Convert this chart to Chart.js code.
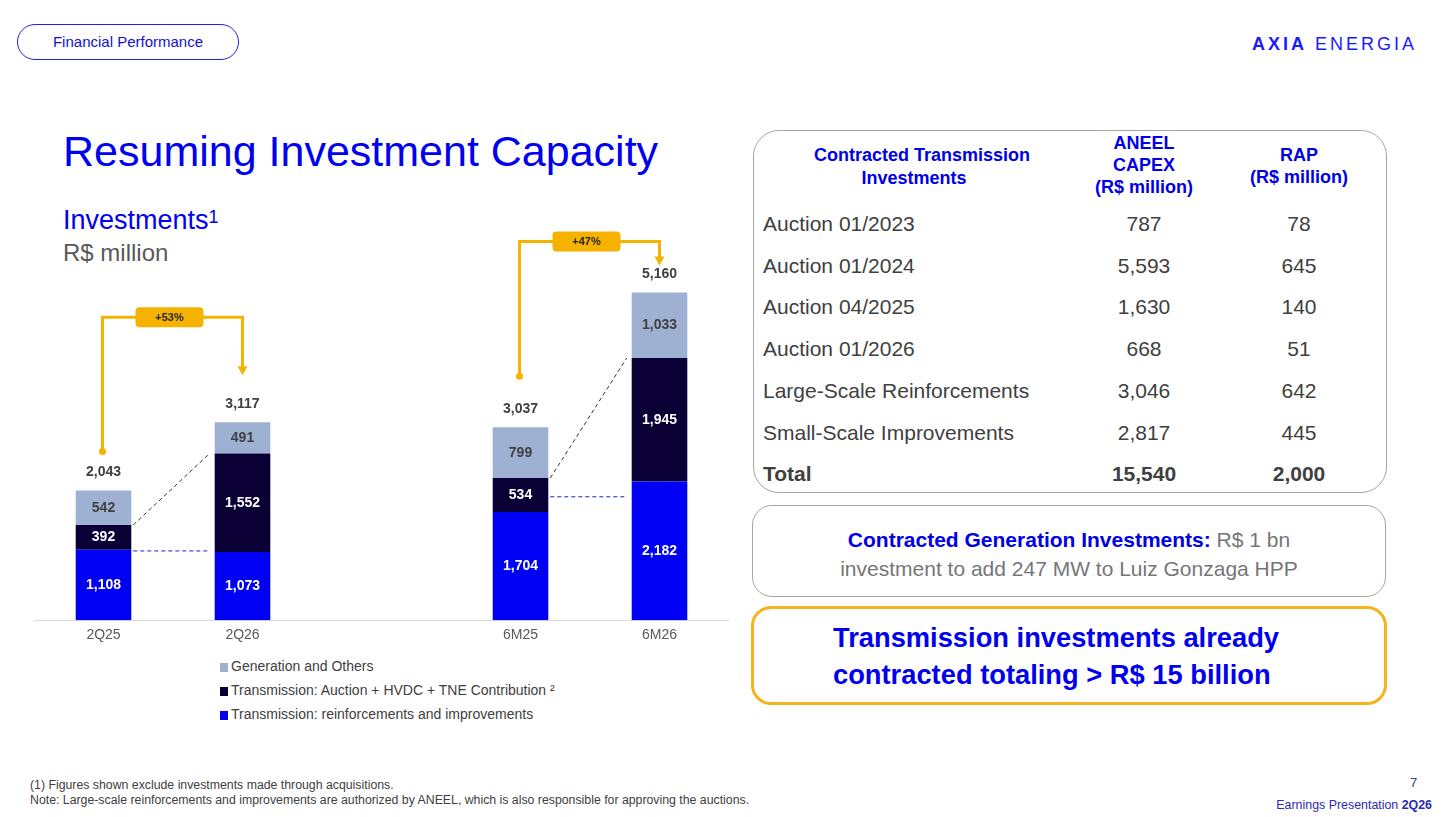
<!DOCTYPE html>
<html>
<head>
<meta charset="utf-8">
<script src="https://cdn.jsdelivr.net/npm/chart.js@4.4.1/dist/chart.umd.min.js"></script>
<style>
  body { margin: 0; background: #fff; font-family: Arial, "Liberation Sans", sans-serif; }
  #slide { position: relative; width: 1452px; height: 817px; overflow: hidden; background: #fff; }
  .abs { position: absolute; white-space: nowrap; }
  .pill { left: 17px; top: 24px; width: 222px; height: 36px; box-sizing: border-box; border: 1.5px solid #2020f0; border-radius: 18px;
          font-size: 15px; line-height: 33px; text-align: center; color: #1010d0; }
  .logo { left: 1252px; top: 34px; font-size: 18px; line-height: 20px; letter-spacing: 3px; color: #1a1aff; }
  .title { left: 63px; top: 130px; font-size: 43px; line-height: 42px; color: #0000f0; }
  .sub1 { left: 63px; top: 205px; font-size: 27px; line-height: 30px; color: #0000f0; }
  .sub1 sup { font-size: 18px; vertical-align: 6px; line-height: 0; }
  .sub2 { left: 63px; top: 238px; font-size: 24px; line-height: 30px; color: #595959; }
  #chartBox { position: absolute; left: 34px; top: 220px; width: 695px; height: 431px; }
  #legend { left: 220px; top: 654px; font-size: 14px; color: #404040; }
  #legend div { height: 24px; line-height: 24px; }
  #legend span.sw { display: inline-block; width: 8px; height: 9px; margin-right: 3px; vertical-align: -1px; }
  .foot { left: 30px; top: 778px; font-size: 12.3px; line-height: 15px; color: #404040; }
  .page { left: 1410px; top: 775px; font-size: 13px; line-height: 16px; color: #3a3a8a; }
  .earn { right: 20px; top: 797px; font-size: 12.4px; line-height: 16px; color: #2a2ab8; }
  .box { position: absolute; box-sizing: border-box; }
  #tbl { left: 753px; top: 130px; width: 634px; height: 363px; border: 1px solid #a6a6a6; border-radius: 26px; }
  .hd { position: absolute; font-size: 18px; font-weight: bold; color: #0000e6; text-align: center; white-space: nowrap; }
  .cell { position: absolute; font-size: 21px; line-height: 30px; color: #404040; white-space: nowrap; }
  .num { text-align: center; width: 160px; }
  .gen { left: 752px; top: 505px; width: 634px; height: 92px; border: 1px solid #a6a6a6; border-radius: 20px; }
  .gentext { position: absolute; left: 0; width: 100%; top: 19px; text-align: center; font-size: 21px; line-height: 29px; color: #767676; }
  .gentext b { color: #0000e6; }
  .hl { left: 751px; top: 606px; width: 636px; height: 99px; border: 3px solid #f5b41e; border-radius: 20px; }
  .hltext { position: absolute; left: 79px; top: 10px; font-size: 27.3px; line-height: 37px; font-weight: bold; color: #0000ee; white-space: nowrap; }
</style>
</head>
<body>
<div id="slide">
  <div class="abs pill">Financial Performance</div>
  <div class="abs logo"><b>AXIA</b> ENERGIA</div>
  <div class="abs title">Resuming Investment Capacity</div>
  <div class="abs sub1">Investments<sup>1</sup></div>
  <div class="abs sub2">R$ million</div>

  <div id="chartBox"><canvas id="invChart"></canvas></div>
  <div class="abs" id="legend"></div>

  <div id="tbl" class="box"></div>
  <div class="box gen">
    <div class="gentext"><b>Contracted Generation Investments:</b> R$ 1 bn<br>investment to add 247 MW to Luiz Gonzaga HPP</div>
  </div>
  <div class="box hl">
    <div class="hltext">Transmission investments already<br>contracted totaling &gt; R$ 15 billion</div>
  </div>

  <div class="abs foot">(1) Figures shown exclude investments made through acquisitions.<br>Note: Large-scale reinforcements and improvements are authorized by ANEEL, which is also responsible for approving the auctions.</div>
  <div class="abs page">7</div>
  <div class="abs earn">Earnings Presentation <b>2Q26</b></div>
</div>

<script>
// chart data (R$ million)
var categories = ['2Q25', '2Q26', '', '6M25', '6M26'];
var reinforcements = [1108, 1073, null, 1704, 2182];
var auctionHvdc = [392, 1552, null, 534, 1945];
var generation = [542, 491, null, 799, 1033];
var totals = [2043, 3117, null, 3037, 5160];
var growthLabels = ['+53%', '+47%'];
var seriesNames = ['Transmission: reinforcements and improvements', 'Transmission: Auction + HVDC + TNE Contribution ²', 'Generation and Others'];
var seriesColors = ['#0000f5', '#0a0036', '#9fb1d3'];

// table data
var tableRows = ['Auction 01/2023', 'Auction 01/2024', 'Auction 04/2025', 'Auction 01/2026', 'Large-Scale Reinforcements', 'Small-Scale Improvements'];
var capexValues = [787, 5593, 1630, 668, 3046, 2817];
var rapValues = [78, 645, 140, 51, 642, 445];
var capexTotal = 15540;
var rapTotal = 2000;

function fmt(v) { return v.toLocaleString('en-US'); }

// table
var tbl = document.getElementById('tbl');
var html = '';
html += '<div class="hd" style="left:60px;top:13px;width:200px;line-height:23px;">Contracted Transmission<br>Investments</div>';
html += '<div class="hd" style="left:290px;top:1px;width:200px;line-height:22px;">ANEEL<br>CAPEX<br>(R$ million)</div>';
html += '<div class="hd" style="left:445px;top:13px;width:200px;line-height:22px;">RAP<br>(R$ million)</div>';
for (var i = 0; i <= tableRows.length; i++) {
  var cy = 224 + i * 41.7 - 130 - 16;
  var isTotal = i == tableRows.length;
  var w = isTotal ? 'font-weight:bold;' : '';
  html += '<div class="cell" style="left:9px;top:' + cy + 'px;' + w + '">' + (isTotal ? 'Total' : tableRows[i]) + '</div>';
  html += '<div class="cell num" style="left:310px;top:' + cy + 'px;' + w + '">' + fmt(isTotal ? capexTotal : capexValues[i]) + '</div>';
  html += '<div class="cell num" style="left:465px;top:' + cy + 'px;' + w + '">' + fmt(isTotal ? rapTotal : rapValues[i]) + '</div>';
}
tbl.innerHTML = html;

// legend (top item = top of stack)
var lg = '';
for (var k = seriesNames.length - 1; k >= 0; k--) {
  lg += '<div><span class="sw" style="background:' + seriesColors[k] + '"></span>' + seriesNames[k] + '</div>';
}
document.getElementById('legend').innerHTML = lg;

// bracket layout (pixels)
var bracketLayout = [
  { from: 0, to: 1, rise: 105, dotGap: 39, arrowGap: 47 },
  { from: 3, to: 4, rise: 51, dotGap: 51, arrowGap: 27 }
];

var annotationsPlugin = {
  id: 'annotations',
  afterDatasetsDraw: function(chart) {
    var ctx = chart.ctx;
    var metas = [0, 1, 2].map(function(d) { return chart.getDatasetMeta(d); });
    ctx.save();
    ctx.textAlign = 'center';
    ctx.textBaseline = 'middle';

    // values in segments
    for (var d = 0; d < 3; d++) {
      var vals = chart.data.datasets[d].data;
      metas[d].data.forEach(function(bar, j) {
        if (vals[j] == null) return;
        ctx.font = 'bold 14px Arial, "Liberation Sans", sans-serif';
        ctx.fillStyle = d == 2 ? '#404040' : '#ffffff';
        ctx.fillText(fmt(vals[j]), bar.x, (bar.y + bar.base) / 2);
      });
    }
    // totals
    metas[2].data.forEach(function(bar, j) {
      if (totals[j] == null) return;
      ctx.font = 'bold 14px Arial, "Liberation Sans", sans-serif';
      ctx.fillStyle = '#404040';
      ctx.fillText(fmt(totals[j]), bar.x, bar.y - 18);
    });

    // dashed connectors
    ctx.lineWidth = 1;
    ctx.setLineDash([4, 3]);
    bracketLayout.forEach(function(b) {
      var a0 = metas[0].data[b.from], b0 = metas[0].data[b.to];
      var a1 = metas[1].data[b.from], b1 = metas[1].data[b.to];
      var x1 = a0.x + a0.width / 2 + 2, x2 = b0.x - b0.width / 2 - 5;
      ctx.strokeStyle = '#333333';
      ctx.beginPath(); ctx.moveTo(x1, a1.y); ctx.lineTo(x2, b1.y); ctx.stroke();
      var lvl = (a0.y + b0.y) / 2;
      ctx.strokeStyle = '#2020cc';
      ctx.beginPath(); ctx.moveTo(x1, lvl); ctx.lineTo(x2, lvl); ctx.stroke();
    });
    ctx.setLineDash([]);

    // growth brackets
    var orange = '#f5b300';
    bracketLayout.forEach(function(b, n) {
      var a = metas[2].data[b.from], c = metas[2].data[b.to];
      var xl = a.x - 1, xr = c.x;
      var top = Math.min(a.y, c.y) - b.rise;
      var yDot = a.y - b.dotGap, yTip = c.y - b.arrowGap;
      ctx.strokeStyle = orange;
      ctx.fillStyle = orange;
      ctx.lineWidth = 3;
      ctx.beginPath();
      ctx.moveTo(xl, yDot); ctx.lineTo(xl, top); ctx.lineTo(xr, top); ctx.lineTo(xr, yTip - 8);
      ctx.stroke();
      ctx.beginPath(); ctx.arc(xl, yDot, 3.5, 0, Math.PI * 2); ctx.fill();
      ctx.beginPath(); ctx.moveTo(xr - 5, yTip - 9); ctx.lineTo(xr + 5, yTip - 9); ctx.lineTo(xr, yTip); ctx.closePath(); ctx.fill();
      var cx = (xl + xr) / 2 - 3;
      ctx.beginPath();
      ctx.roundRect(cx - 34, top - 10, 68, 20, 4);
      ctx.fill();
      ctx.fillStyle = '#222222';
      ctx.font = 'bold 11px Arial, "Liberation Sans", sans-serif';
      ctx.fillText(growthLabels[n], cx, top + 1);
    });
    ctx.restore();
  }
};

Chart.defaults.font.family = 'Arial, "Liberation Sans", sans-serif';

var chart = new Chart(document.getElementById('invChart').getContext('2d'), {
  type: 'bar',
  data: {
    labels: categories,
    datasets: [
      { label: seriesNames[0], data: reinforcements, backgroundColor: seriesColors[0] },
      { label: seriesNames[1], data: auctionHvdc, backgroundColor: seriesColors[1] },
      { label: seriesNames[2], data: generation, backgroundColor: seriesColors[2] }
    ]
  },
  options: {
    responsive: true,
    maintainAspectRatio: false,
    animation: false,
    layout: { padding: 0 },
    datasets: { bar: { barPercentage: 0.4, categoryPercentage: 1 } },
    plugins: { legend: { display: false }, tooltip: { enabled: false } },
    scales: {
      x: {
        stacked: true,
        grid: { display: false, drawTicks: false },
        border: { display: true, color: '#d9d9d9', width: 1 },
        ticks: { color: '#595959', font: { size: 14 }, padding: 7 }
      },
      y: { stacked: true, display: false, min: 0, max: 6300 }
    }
  },
  plugins: [annotationsPlugin]
});
</script>
</body>
</html>
